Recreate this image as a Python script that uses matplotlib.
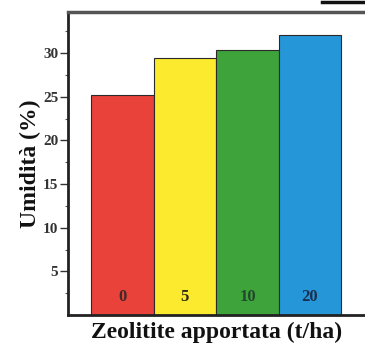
import matplotlib.pyplot as plt
from matplotlib.lines import Line2D

# dati
dosi = ['0', '5', '10', '20']
umidita = [25.2, 29.4, 30.4, 32.1]
colori = ['#e8423a', '#fbea2e', '#3fa33b', '#2597d8']
colori_testo = ['#3a2a28', '#2e2a10', '#1f4a2a', '#1b2f52']

plt.rcParams['font.family'] = ['Liberation Serif', 'DejaVu Serif']

fig = plt.figure(figsize=(3.65, 3.44), dpi=100)
ax = fig.add_axes([68 / 365, 1 - 315 / 344, 297 / 365, 303 / 344])

x = list(range(len(dosi)))
ax.bar(x, umidita, width=1.0, color=colori, edgecolor='#2a2a2a', linewidth=0.8)

for i, d in enumerate(dosi):
    ax.text(x[i], 2.1, d, ha='center', va='center', fontsize=12,
            fontweight='bold', color=colori_testo[i])

ax.set_xlim(-0.87, 3.88)
ax.set_ylim(0, 34.7)
ax.set_yticks([5, 10, 15, 20, 25, 30])
ax.set_yticks([2.5, 7.5, 12.5, 17.5, 22.5, 27.5, 32.5], minor=True)
ax.set_xticks([])
ax.tick_params(axis='y', which='major', length=6, width=1, labelsize=11,
               pad=1, colors='#333333', labelcolor='#333333')
ax.tick_params(axis='y', which='minor', length=2, width=0.8, colors='#555555')
for lab in ax.get_yticklabels():
    lab.set_fontweight('bold')

ax.spines['right'].set_visible(False)
ax.spines['left'].set_linewidth(2)
ax.spines['left'].set_color('#222222')
ax.spines['bottom'].set_linewidth(2)
ax.spines['bottom'].set_color('#222222')
ax.spines['top'].set_linewidth(2.5)
ax.spines['top'].set_color('#555555')

ax.set_xlabel('Zeolitite apportata (t/ha)', fontsize=17, fontweight='bold',
              labelpad=5, color='#111111')
ax.set_ylabel('Umidità (%)', fontsize=17, fontweight='bold', labelpad=1,
              color='#111111')

# linea nera in alto a destra (bordo di un riquadro tagliato)
fig.add_artist(Line2D([322 / 365, 1.0], [1 - 1.5 / 344, 1 - 1.5 / 344],
                      color='#111111', linewidth=2.5))

fig.savefig('out.png', dpi=100)
